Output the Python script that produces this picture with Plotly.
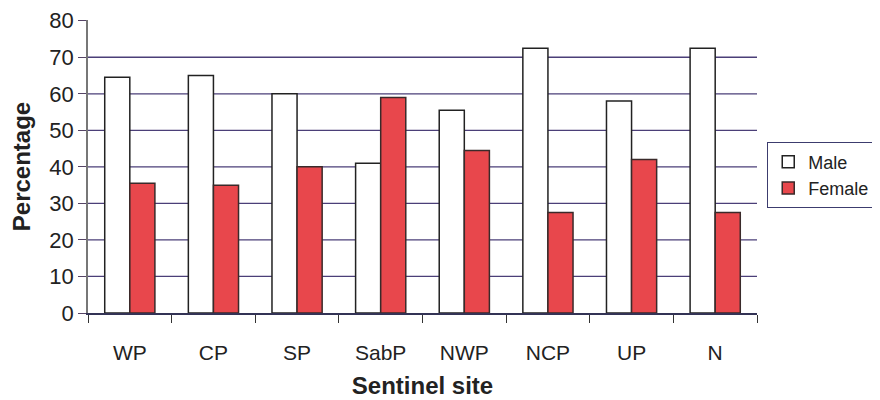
import plotly.graph_objects as go

sites = ["WP", "CP", "SP", "SabP", "NWP", "NCP", "UP", "N"]
male = [64.5, 65, 60, 41, 55.5, 72.5, 58, 72.5]
female = [35.5, 35, 40, 59, 44.5, 27.5, 42, 27.5]
y_ticks = [0, 10, 20, 30, 40, 50, 60, 70, 80]
grid_vals = [10, 20, 30, 40, 50, 60, 70]

font_family = "Liberation Sans, Arial, sans-serif"

fig = go.Figure()
fig.add_trace(go.Bar(
    name="Male", x=sites, y=male,
    marker=dict(color="white", line=dict(color="#222222", width=1.5)),
))
fig.add_trace(go.Bar(
    name="Female", x=sites, y=female,
    marker=dict(color="#e8474c", line=dict(color="#3a2a2a", width=1.5)),
))

for g in grid_vals:
    fig.add_shape(type="line", xref="x domain", yref="y", x0=0, x1=1, y0=g, y1=g,
                  line=dict(color="#4b3f78", width=1.3), layer="below")

fig.update_layout(
    width=880, height=400,
    margin=dict(l=80, r=131, t=12, b=95, autoexpand=False),
    paper_bgcolor="white", plot_bgcolor="white",
    barmode="group", bargap=0.4, bargroupgap=0,
    font=dict(family=font_family, size=20, color="#222222"),
    showlegend=True,
    legend=dict(x=1.015, y=0.47, xanchor="left", yanchor="middle",
                bordercolor="#3c3c6e", borderwidth=1.2, bgcolor="white",
                font=dict(size=18), itemwidth=30, tracegroupgap=0),
)
fig.update_xaxes(
    showline=True, linecolor="#333355", linewidth=1.5,
    ticks="outside", tickson="boundaries", ticklen=8, tickcolor="#333333",
    ticklabelstandoff=20,
    tickfont=dict(size=21),
    title=dict(text="<b>Sentinel site</b>", font=dict(size=24), standoff=14),
    showgrid=False,
)
fig.update_yaxes(
    range=[0, 80.2], tickvals=y_ticks, ticktext=[str(v) for v in y_ticks],
    showline=True, linecolor="#777777", linewidth=1.5,
    ticks="outside", ticklen=8, tickcolor="#554466",
    tickfont=dict(size=22), ticklabeloverflow="allow",
    showgrid=False, zeroline=False,
    title=dict(text="<b>Percentage</b>", font=dict(size=24), standoff=12),
)

fig.write_html("out.html")
